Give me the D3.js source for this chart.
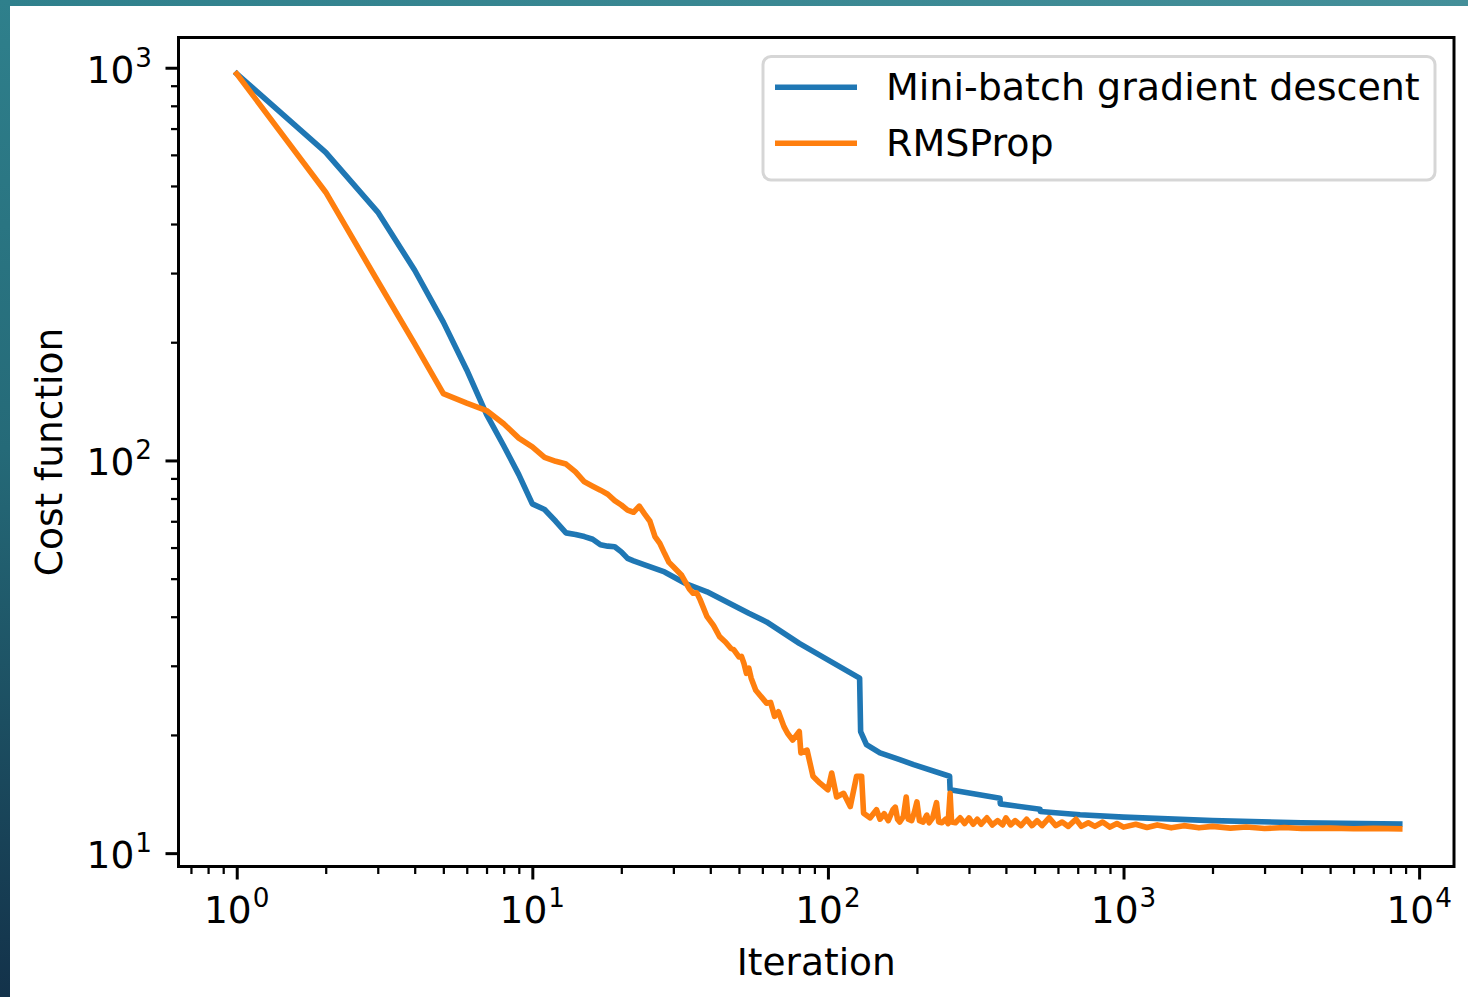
<!DOCTYPE html>
<html><head><meta charset="utf-8">
<script src="https://cdn.jsdelivr.net/npm/d3@7"></script>
<style>
html,body{margin:0;padding:0;background:#fff;overflow:hidden}
svg{display:block}
text{font-family:"DejaVu Sans",sans-serif;fill:#000}
</style></head><body>
<svg id="c" width="1468" height="997"></svg>
<script>
// ---------------- data ----------------
const seriesNames = ["Mini-batch gradient descent", "RMSProp"];
const seriesColors = ["#1f77b4", "#ff7f0e"];

const mbIter = [1,2,3,4,5,6,7,8,9,10,11,12,13,14,15,16,17,18,19,20,21,22,24,28,33,39,54,62,80,128,129,135,150,175,195,258,259,382,383,522,523,713,1000,2000,4000,8600];
const mbCost = [965,609,429,305,225,170,131,109,92,77.5,75,70,65.4,64.8,64,63,61,60.5,60.3,58.5,56.3,55.5,54.2,52,48.6,46.3,40.8,38.8,34.2,27.9,20.4,18.9,18.0,17.3,16.8,15.7,14.5,13.8,13.35,12.94,12.76,12.52,12.35,12.1,11.95,11.87];

const rmsIter = [1,2,3,4,5,6,7,8,9,10,11,12,13,14,15,16,17,18,19,20,21,22,23,24,25,26,27,28,29,30,32,34,35,36,37,39,41,43,45,47,48,50,51,52,53,54,55,57,62,64,66,68,71,73,76,80,81,85,89,94,100,103,107,113,119,125,130,132,139,146,150,155,160,166,169,172,175,180,184,187,192,196,200,204,210,216,220,226,233,237,243,250,255,259,262,270,280,290,300,310,320,330,345,360,375,390,400,415,430,450,470,490,510,530,560,590,620,650,690,720,760,800,850,900,950,1000,1100,1200,1300,1450,1600,1800,2000,2300,2600,3000,3500,4000,5000,6000,7000,8600];
const rmsCost = [965,482,286,198,148,140,134,124,114,108.3,101.8,99.5,97.9,93.5,88.2,86,84,82,79,77,74.7,73.8,76.5,73,70,64,61.5,58,55,53.6,51,47,45.9,46,44.1,40,38,35.6,34.5,33.2,33,31.6,31.7,30.4,28.7,29.6,27.9,26.0,24.1,24.2,22.3,22.9,21.0,20.2,19.4,20.4,18.0,18.3,15.7,15.07,14.5,16.0,13.9,14.2,13.14,15.7,15.7,12.64,12.3,12.9,12.2,12.6,12.1,12.9,13.1,12.2,12.0,12.4,13.9,12.2,12.1,12.7,13.5,12.1,12.0,12.5,11.95,12.3,13.45,12.0,11.95,12.2,11.9,14.2,12.0,11.95,12.3,11.9,12.3,11.85,12.2,11.85,12.3,11.8,12.1,11.8,12.3,11.8,12.1,11.75,12.2,11.75,12.1,11.75,12.3,11.75,12.0,11.7,12.2,11.7,11.95,11.7,12.0,11.65,11.9,11.65,11.85,11.62,11.8,11.6,11.75,11.6,11.7,11.58,11.66,11.56,11.62,11.55,11.58,11.54,11.56,11.53];

const xTickValues = [1, 10, 100, 1000, 10000];
const xTickExponents = ["0", "1", "2", "3", "4"];
const yTickValues = [10, 100, 1000];
const yTickExponents = ["1", "2", "3"];
const xLabel = "Iteration";
const yLabel = "Cost function";

// ---------------- layout ----------------
const W = 1468, H = 997;
const plot = {left: 178.5, right: 1454, top: 37.5, bottom: 866.5};
const FS = 37.5;
const LFS = 38;

const svg = d3.select("#c");
const defs = svg.append("defs");

// slide background strips
const gv = defs.append("linearGradient").attr("id","gv").attr("x1",0).attr("y1",0).attr("x2",0).attr("y2",1);
gv.append("stop").attr("offset","0%").attr("stop-color","#2f808c");
gv.append("stop").attr("offset","45%").attr("stop-color","#256a78");
gv.append("stop").attr("offset","100%").attr("stop-color","#13324a");
const gh = defs.append("linearGradient").attr("id","gh").attr("x1",0).attr("y1",0).attr("x2",1).attr("y2",0);
gh.append("stop").attr("offset","0%").attr("stop-color","#2f808c");
gh.append("stop").attr("offset","100%").attr("stop-color","#448f99");
svg.append("rect").attr("x",0).attr("y",0).attr("width",W).attr("height",H).attr("fill","#fff");
svg.append("rect").attr("x",0).attr("y",0).attr("width",W).attr("height",6).attr("fill","url(#gh)");
svg.append("rect").attr("x",0).attr("y",0).attr("width",10).attr("height",H).attr("fill","url(#gv)");

defs.append("clipPath").attr("id","clip").append("rect")
  .attr("x",plot.left).attr("y",plot.top)
  .attr("width",plot.right-plot.left).attr("height",plot.bottom-plot.top);

const x = d3.scaleLog().domain([Math.pow(10,-0.197), Math.pow(10,4.118)]).range([plot.left, plot.right]);
const y = d3.scaleLog().domain([Math.pow(10,0.966), Math.pow(10,3.077)]).range([plot.bottom, plot.top]);

// lines
const line = d3.line().x(d => x(d[0])).y(d => y(d[1]));
const series = [
  d3.zip(mbIter, mbCost),
  d3.zip(rmsIter, rmsCost)
];
const gLines = svg.append("g").attr("clip-path","url(#clip)");
series.forEach((s, i) => {
  gLines.append("path").datum(s)
    .attr("d", line)
    .attr("fill","none")
    .attr("stroke", seriesColors[i])
    .attr("stroke-width", 5.6)
    .attr("stroke-linejoin","round")
    .attr("stroke-linecap","square");
});

// minor ticks
const minorX = [];
for (let e = -1; e <= 4; e++) for (let m = 2; m <= 9; m++) {
  const v = m * Math.pow(10, e);
  if (v >= x.domain()[0] && v <= x.domain()[1]) minorX.push(v);
}
const minorY = [];
for (let e = 0; e <= 3; e++) for (let m = 2; m <= 9; m++) {
  const v = m * Math.pow(10, e);
  if (v >= y.domain()[0] && v <= y.domain()[1]) minorY.push(v);
}

function styleAxis(g, w) {
  g.select(".domain").remove();
  g.selectAll(".tick line").attr("stroke","#000").attr("stroke-width", w);
  g.selectAll(".tick text").remove();
}

svg.append("g").attr("transform",`translate(0,${plot.bottom})`)
  .call(d3.axisBottom(x).tickValues(minorX).tickSize(7.5).tickFormat(""))
  .call(g => styleAxis(g, 2.25));
svg.append("g").attr("transform",`translate(${plot.left},0)`)
  .call(d3.axisLeft(y).tickValues(minorY).tickSize(7.5).tickFormat(""))
  .call(g => styleAxis(g, 2.25));
svg.append("g").attr("transform",`translate(0,${plot.bottom})`)
  .call(d3.axisBottom(x).tickValues(xTickValues).tickSize(13).tickFormat(""))
  .call(g => styleAxis(g, 3));
svg.append("g").attr("transform",`translate(${plot.left},0)`)
  .call(d3.axisLeft(y).tickValues(yTickValues).tickSize(13).tickFormat(""))
  .call(g => styleAxis(g, 3));

// frame
svg.append("rect").attr("x",plot.left).attr("y",plot.top)
  .attr("width",plot.right-plot.left).attr("height",plot.bottom-plot.top)
  .attr("fill","none").attr("stroke","#000").attr("stroke-width",3);

// tick labels
function powLabel(sel, exp) {
  sel.append("tspan").text("10");
  sel.append("tspan").attr("dy",-16).attr("dx",1).attr("font-size",FS*0.7).text(exp);
}
xTickValues.forEach((v, i) => {
  const t = svg.append("text").attr("x", x(v)).attr("y", 923.3)
    .attr("text-anchor","middle").attr("font-size",FS);
  powLabel(t, xTickExponents[i]);
});
yTickValues.forEach((v, i) => {
  const t = svg.append("text").attr("x", 152).attr("y", y(v) + 15)
    .attr("text-anchor","end").attr("font-size",FS);
  powLabel(t, yTickExponents[i]);
});

// axis labels
svg.append("text").attr("x",(plot.left+plot.right)/2).attr("y",975)
  .attr("text-anchor","middle").attr("font-size",FS).text(xLabel);
svg.append("text").attr("transform",`translate(62,${(plot.top+plot.bottom)/2}) rotate(-90)`)
  .attr("text-anchor","middle").attr("font-size",FS).text(yLabel);

// legend
const lg = svg.append("g");
lg.append("rect").attr("x",763).attr("y",56.5).attr("width",672).attr("height",123.5)
  .attr("rx",8).attr("ry",8)
  .attr("fill","#fff").attr("fill-opacity",0.8)
  .attr("stroke","#cccccc").attr("stroke-opacity",0.8).attr("stroke-width",3);
seriesNames.forEach((name, i) => {
  const yy = 87.3 + i * 56;
  lg.append("line").attr("x1",775).attr("x2",857).attr("y1",yy).attr("y2",yy)
    .attr("stroke",seriesColors[i]).attr("stroke-width",5.6);
  lg.append("text").attr("x",886).attr("y",yy + 12.8).attr("font-size",LFS).text(name);
});
</script>
</body></html>
